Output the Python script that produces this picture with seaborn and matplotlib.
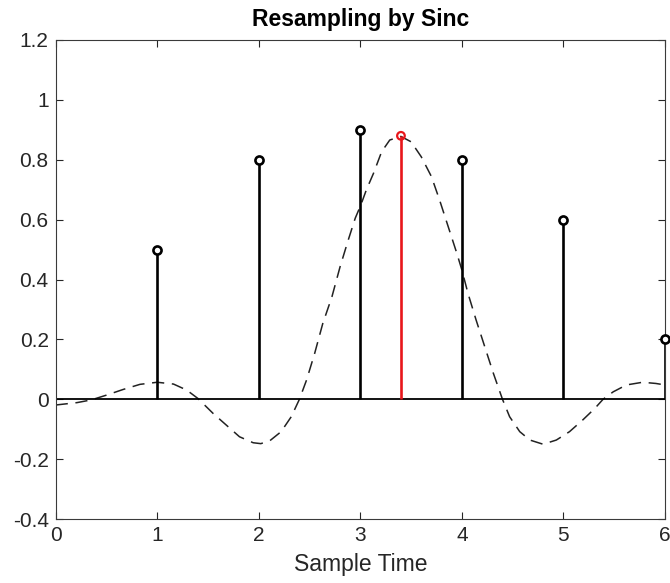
import matplotlib
matplotlib.use("Agg")
import matplotlib.pyplot as plt
import seaborn as sns
import pandas as pd

# ---- data ----
sample_t = [1, 2, 3, 4, 5, 6]
sample_v = [0.5, 0.8, 0.9, 0.8, 0.6, 0.2]
resample_t = [3.4]
resample_v = [0.88]

curve_x = [0.0, 0.21, 0.35, 0.50, 0.665, 0.83, 1.0, 1.16, 1.29, 1.40, 1.55, 1.68,
           1.81, 1.945, 2.02, 2.11, 2.22, 2.32, 2.40, 2.47, 2.55, 2.63, 2.72, 2.80,
           2.88, 2.95, 3.005, 3.06, 3.13, 3.21, 3.29, 3.40, 3.50, 3.60, 3.70, 3.78,
           3.865, 3.95, 4.0, 4.06, 4.14, 4.225, 4.31, 4.40, 4.47, 4.57, 4.67, 4.80,
           4.93, 5.06, 5.19, 5.31, 5.39, 5.49, 5.62, 5.78, 5.91, 6.0]
curve_y = [-0.019, -0.011, -0.002, 0.014, 0.033, 0.05, 0.057, 0.051, 0.031, 0.003,
           -0.047, -0.086, -0.125, -0.145, -0.148, -0.138, -0.108, -0.058, 0.0, 0.064,
           0.153, 0.253, 0.342, 0.442, 0.531, 0.605, 0.649, 0.70, 0.755, 0.827, 0.866,
           0.878, 0.86, 0.81, 0.744, 0.666, 0.577, 0.488, 0.432, 0.354, 0.265, 0.176,
           0.087, 0.0, -0.058, -0.108, -0.136, -0.150, -0.136, -0.108, -0.069, -0.030,
           0.0, 0.025, 0.048, 0.057, 0.053, 0.048]

x_ticks = [0, 1, 2, 3, 4, 5, 6]
y_ticks = [-0.4, -0.2, 0, 0.2, 0.4, 0.6, 0.8, 1.0, 1.2]
y_tick_labels = ["-0.4", "-0.2", "0", "0.2", "0.4", "0.6", "0.8", "1", "1.2"]

title = "Resampling by Sinc"
xlabel = "Sample Time"

# ---- styling ----
sns.set_style("white")
plt.rcParams["font.family"] = ["Liberation Sans", "DejaVu Sans"]
axcol = "#262626"

fig = plt.figure(figsize=(6.7, 5.83), dpi=100)
ax = fig.add_axes([0.0831, 0.1096, 0.9094, 0.8218])

curve_df = pd.DataFrame({"t": curve_x, "v": curve_y})
sns.lineplot(data=curve_df, x="t", y="v", ax=ax, color="#222222", lw=1.1,
             sort=False, estimator=None, linestyle=(0, (8, 5)))

# baseline
ax.axhline(0, color="black", lw=1.3, zorder=2)

# black stems
ax.vlines(sample_t, 0, sample_v, color="black", lw=1.9, zorder=3)
samp_df = pd.DataFrame({"t": sample_t, "v": sample_v})
sns.scatterplot(data=samp_df, x="t", y="v", ax=ax, marker="o", s=34,
                facecolor="white", edgecolor="black", linewidth=1.9,
                zorder=4, clip_on=False)

# red stem
ax.vlines(resample_t, 0, resample_v, color="#e8161b", lw=1.9, zorder=3)
res_df = pd.DataFrame({"t": resample_t, "v": resample_v})
sns.scatterplot(data=res_df, x="t", y="v", ax=ax, marker="o", s=30,
                facecolor="none", edgecolor="#e8161b", linewidth=1.6,
                zorder=4, clip_on=False)

ax.set_xlim(0, 6)
ax.set_ylim(-0.4, 1.2)
ax.set_xticks(x_ticks)
ax.set_xticklabels([str(v) for v in x_ticks])
ax.set_yticks(y_ticks)
ax.set_yticklabels(y_tick_labels)

ax.tick_params(direction="in", length=5, width=0.8, colors=axcol,
               labelsize=15, top=True, right=True, bottom=True, left=True,
               labeltop=False, labelright=False, pad=5)
for sp in ax.spines.values():
    sp.set_color("#3a3a3a")
    sp.set_linewidth(0.8)
    sp.set_visible(True)

ax.set_xlabel(xlabel, fontsize=16.5, color=axcol, labelpad=6)
ax.set_ylabel("")
ax.set_title(title, fontsize=16.5, fontweight="bold", color="black", pad=10)

fig.savefig("out.png", dpi=100)
